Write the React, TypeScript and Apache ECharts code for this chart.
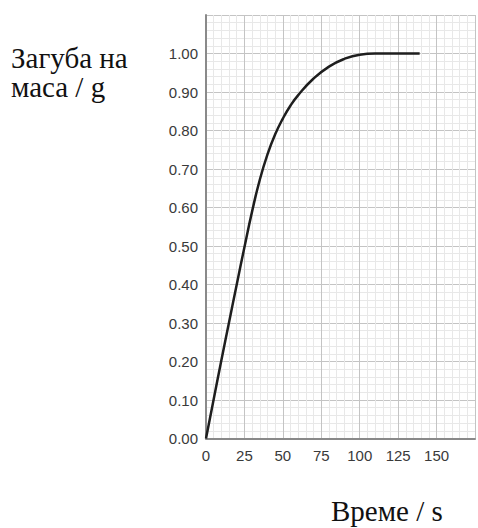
import React, { useEffect, useRef } from "react";
import * as echarts from "echarts";

const timeS = [0, 5, 10, 15, 20, 25, 30, 35, 40, 45, 50, 55, 60, 70, 80, 90, 100, 110, 139];
const massLoss = [0, 0.102, 0.203, 0.302, 0.4, 0.497, 0.59, 0.672, 0.738, 0.79, 0.831, 0.865, 0.892, 0.935, 0.966, 0.986, 0.997, 1.0, 1.0];
const yTickValues = [0, 0.1, 0.2, 0.3, 0.4, 0.5, 0.6, 0.7, 0.8, 0.9, 1.0];
const xTickValues = [0, 25, 50, 75, 100, 125, 150];

export default function App() {
  const ref = useRef<HTMLDivElement>(null);
  useEffect(() => {
    if (!ref.current) return;
    const chart = echarts.init(ref.current, undefined, { renderer: "svg" });
    const serif = "'Liberation Serif', 'Times New Roman', serif";
    const sans = "'Liberation Sans', Arial, sans-serif";
    chart.setOption({
      animation: false,
      backgroundColor: "#ffffff",
      grid: { left: 206, top: 15, right: 0, bottom: 89.5, containLabel: false },
      xAxis: {
        type: "value",
        min: 0,
        max: 175,
        interval: 25,
        axisLine: { show: true, onZero: false, lineStyle: { color: "#8a8a8a", width: 2 } },
        axisTick: { show: false },
        axisLabel: {
          margin: 9,
          fontSize: 15,
          fontFamily: sans,
          color: "#3a3a3a",
          formatter: (v: number) => (xTickValues.includes(v) ? String(v) : ""),
        },
        splitLine: { show: true, lineStyle: { color: "#c4c4c4", width: 1 } },
        minorTick: { show: false, splitNumber: 5 },
        minorSplitLine: { show: true, lineStyle: { color: "#e8e8e8", width: 1 } },
      },
      yAxis: {
        type: "value",
        min: 0,
        max: 1.1,
        interval: 0.1,
        axisLine: { show: true, onZero: false, lineStyle: { color: "#8a8a8a", width: 2 } },
        axisTick: { show: false },
        axisLabel: {
          margin: 8,
          fontSize: 15,
          fontFamily: sans,
          color: "#3a3a3a",
          formatter: (v: number) => {
            const r = Math.round(v * 100) / 100;
            return yTickValues.some((t) => Math.abs(t - r) < 1e-6) ? r.toFixed(2) : "";
          },
        },
        splitLine: { show: true, lineStyle: { color: "#c4c4c4", width: 1 } },
        minorTick: { show: false, splitNumber: 5 },
        minorSplitLine: { show: true, lineStyle: { color: "#e8e8e8", width: 1 } },
      },
      series: [
        {
          type: "line",
          data: timeS.map((t, i) => [t, massLoss[i]]),
          smooth: 0.5,
          showSymbol: false,
          symbol: "none",
          lineStyle: { color: "#1e1e1e", width: 2.5 },
        },
      ],
      graphic: [
        {
          type: "text",
          left: 11,
          top: 43,
          style: { text: "Загуба на", font: `29px ${serif}`, fill: "#111" },
        },
        {
          type: "text",
          left: 11,
          top: 72,
          style: { text: "маса / g", font: `29px ${serif}`, fill: "#111" },
        },
        {
          type: "text",
          left: 331,
          top: 496,
          style: { text: "Време / s", font: `29px ${serif}`, fill: "#111" },
        },
      ],
    });
    return () => chart.dispose();
  }, []);
  return (
    <div
      ref={ref}
      style={{ position: "fixed", left: 0, top: 0, width: 478, height: 528 }}
    />
  );
}
